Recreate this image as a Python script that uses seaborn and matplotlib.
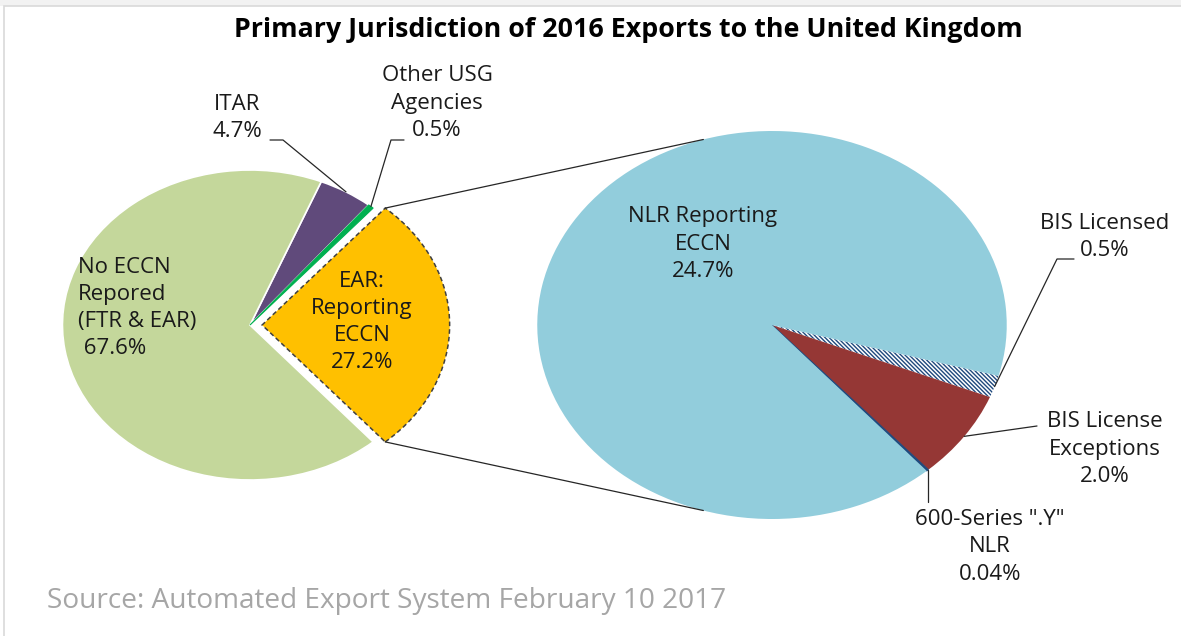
import numpy as np
import matplotlib
matplotlib.use('Agg')
import matplotlib.pyplot as plt
import matplotlib.patches as mpatches
import seaborn as sns

# Left pie: primary jurisdiction (%)
left_labels = ['EAR:\nReporting\nECCN', 'Other USG\nAgencies', 'ITAR', 'No ECCN\nRepored\n(FTR & EAR)']
left_values = [27.2, 0.5, 4.7, 67.6]
left_colors = ['#FFC000', '#00B050', '#604A7B', '#C4D79B']

# Right pie: breakdown of EAR reporting ECCN (%)
right_labels = ['BIS Licensed', 'BIS License\nExceptions', '600-Series ".Y"\nNLR', 'NLR Reporting\nECCN']
right_values = [0.5, 2.0, 0.04, 24.7]
right_colors = ['white', '#953735', '#1F497D', '#92CDDC']

title = 'Primary Jurisdiction of 2016 Exports to the United Kingdom'
source = 'Source: Automated Export System February 10 2017'

sns.set_theme(style='white')
plt.rcParams['font.family'] = ['Open Sans', 'DejaVu Sans']
plt.rcParams['hatch.linewidth'] = 1.0


def pct(v):
    return '{:.2f}%'.format(v) if v < 0.1 else '{:.1f}%'.format(v)


# work in pixel units, the original image is stretched sideways
W, H = 1181, 636
SX = 1.21


def P(x, y):
    return (x / SX, H - y)


fig = plt.figure(figsize=(W / 100, H / 100), dpi=100)
ax = fig.add_axes([0, 0, 1, 1])

# chart frame
fig.patches.append(mpatches.Rectangle((0, 1 - 6 / H), 1, 6 / H, transform=fig.transFigure,
                                      facecolor='#F2F2F2', edgecolor='none', zorder=0))
fig.patches.append(mpatches.Rectangle((4 / W, -0.05), 1.1, 1 - 6 / H + 0.05, transform=fig.transFigure,
                                      facecolor='none', edgecolor='#D9D9D9', linewidth=1.2, zorder=0))

left_c = P(250, 325)
r_left = 155
right_c = P(772, 325)
r_right = 194

start_l = -left_values[0] / sum(left_values) * 360 / 2
wl, _ = ax.pie(left_values, colors=left_colors, startangle=start_l, counterclock=True,
               center=left_c, radius=r_left, frame=True,
               wedgeprops=dict(edgecolor='white', linewidth=1.2))
wl[1].set_edgecolor(left_colors[1])
wl[1].set_linewidth(0.8)
wl[1].set_zorder(2)

# explode the EAR slice
shift = 10
wl[0].set_center((left_c[0] + shift, left_c[1]))
wl[0].set_edgecolor('#404040')
wl[0].set_linestyle((0, (3, 2)))
wl[0].set_linewidth(1.1)

wr, _ = ax.pie(right_values, colors=right_colors, startangle=-15.2, counterclock=False,
               center=right_c, radius=r_right, frame=True,
               wedgeprops=dict(linewidth=0))
wr[0].set_hatch('\\' * 8)
wr[0].set_edgecolor('#1F497D')
wr[0].set_linewidth(0)
wr[2].set_edgecolor('#1F497D')
wr[2].set_linewidth(0.8)


def on_wedge(w):
    t = (w.theta1 + w.theta2) / 2
    cx, cy = w.center
    return (cx + w.r * np.cos(np.radians(t)), cy + w.r * np.sin(np.radians(t)))


def circle_pt(c, r, ang):
    return (c[0] + r * np.cos(np.radians(ang)), c[1] + r * np.sin(np.radians(ang)))


# connector lines between the two pies
ear = wl[0]
top_l = circle_pt(ear.center, ear.r, ear.theta2)
bot_l = circle_pt(ear.center, ear.r, ear.theta1)
top_r = circle_pt(right_c, r_right, 107)
bot_r = circle_pt(right_c, r_right, -107)
ax.plot([top_l[0], top_r[0]], [top_l[1], top_r[1]], color='#262626', lw=0.9, zorder=1)
ax.plot([bot_l[0], bot_r[0]], [bot_l[1], bot_r[1]], color='#262626', lw=0.9, zorder=1)


def leader(pts_px, wedge):
    pts = [P(*p) for p in pts_px] + [on_wedge(wedge)]
    ax.plot([p[0] for p in pts], [p[1] for p in pts], color='#262626', lw=0.9, zorder=3)


leader([(270, 140), (283, 140)], wl[2])
leader([(404, 140), (391, 140)], wl[1])
leader([(1074, 259), (1057, 259)], wr[0])
leader([(1037, 426)], wr[1])
a600 = on_wedge(wr[2])
ax.plot([a600[0], a600[0]], [a600[1], P(0, 502)[1]], color='#262626', lw=0.9, zorder=3)

# labels
fs = 16
tc = '#1a1a1a'
ls = 1.38


def label(text, x, y, ha='center'):
    ax.text(*P(x, y), text, ha=ha, va='center', fontsize=fs, color=tc,
            linespacing=ls, multialignment=ha, zorder=4)


label(left_labels[0] + '\n' + pct(left_values[0]), 362, 322)
label(left_labels[1] + '\n' + pct(left_values[1]), 437, 103)
label(left_labels[2] + '\n' + pct(left_values[2]), 237, 118)
label(left_labels[3] + '\n ' + pct(left_values[3]), 78, 308, ha='left')
label(right_labels[0] + '\n' + pct(right_values[0]), 1105, 237)
label(right_labels[1] + '\n' + pct(right_values[1]), 1105, 449)
label(right_labels[2] + '\n' + pct(right_values[2]), 990, 547)
label(right_labels[3] + '\n' + pct(right_values[3]), 703, 244)

ax.text(*P(628, 30), title, ha='center', va='center', fontsize=19.3, fontweight='bold', color='black')
ax.text(*P(47, 601), source, ha='left', va='center', fontsize=20.2, color='#A6A6A6')

ax.set_xlim(0, W / SX)
ax.set_ylim(0, H)
ax.set_aspect('auto')
ax.axis('off')

fig.savefig('out.png', dpi=100)
